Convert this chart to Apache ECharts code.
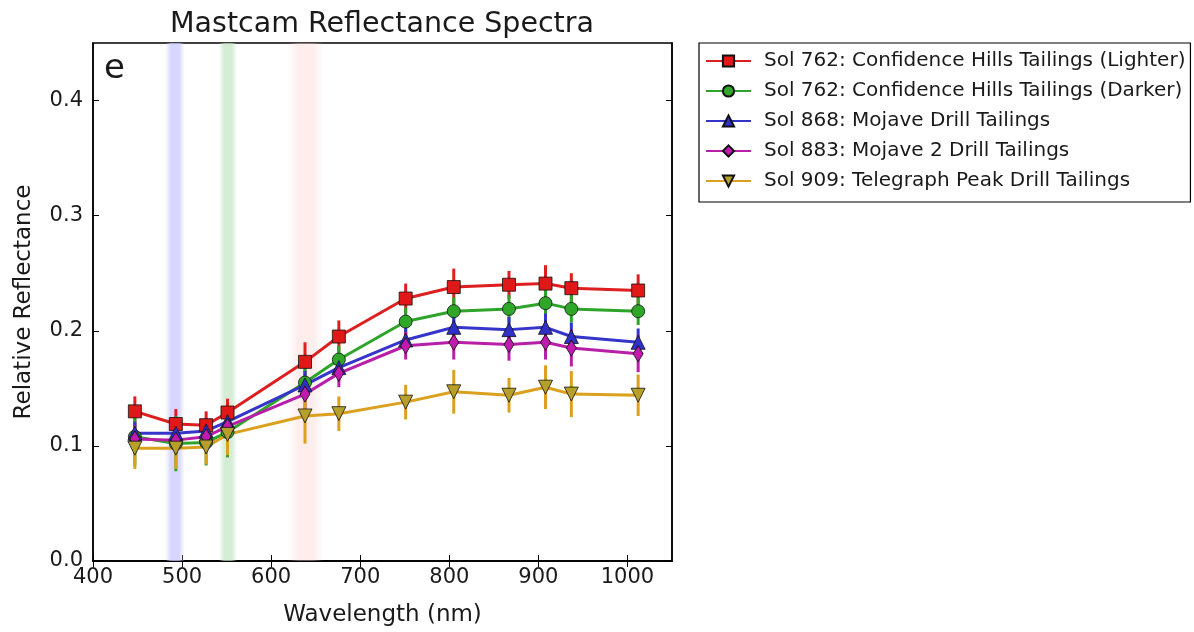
<!DOCTYPE html>
<html>
<head>
<meta charset="utf-8">
<script src="https://cdn.jsdelivr.net/npm/echarts@6/dist/echarts.min.js"></script>
<style>
  html, body { margin: 0; padding: 0; background: #ffffff; }
  #chart { width: 1194px; height: 632px; }
</style>
</head>
<body>
<div id="chart"></div>
<script>
// Mastcam filter centre wavelengths (nm)
const wavelengths = [447, 493, 527, 551, 638, 676, 751, 805, 867, 908, 937, 1012];

const seriesNames = [
  'Sol 762: Confidence Hills Tailings (Lighter)',
  'Sol 762: Confidence Hills Tailings (Darker)',
  'Sol 868: Mojave Drill Tailings',
  'Sol 883: Mojave 2 Drill Tailings',
  'Sol 909: Telegraph Peak Drill Tailings'
];

// Relative reflectance per filter
const lighterValues  = [0.130, 0.119, 0.118, 0.129, 0.173, 0.195, 0.228, 0.238, 0.240, 0.241, 0.237, 0.235];
const darkerValues   = [0.108, 0.102, 0.103, 0.112, 0.155, 0.175, 0.208, 0.217, 0.219, 0.224, 0.219, 0.217];
const mojaveValues   = [0.111, 0.111, 0.113, 0.121, 0.153, 0.168, 0.192, 0.203, 0.201, 0.203, 0.195, 0.190];
const mojave2Values  = [0.106, 0.105, 0.108, 0.117, 0.145, 0.163, 0.187, 0.190, 0.188, 0.190, 0.185, 0.180];
const telegraphValues= [0.098, 0.098, 0.099, 0.110, 0.126, 0.128, 0.138, 0.147, 0.144, 0.151, 0.145, 0.144];

// Half-height of the uncertainty bars
const lighterErr   = [0.013, 0.013, 0.012, 0.012, 0.017, 0.014, 0.013, 0.016, 0.012, 0.016, 0.013, 0.014];
const darkerErr    = [0.025, 0.024, 0.020, 0.022, 0.015, 0.012, 0.012, 0.012, 0.012, 0.012, 0.012, 0.012];
const mojaveErr    = [0.010, 0.010, 0.010, 0.010, 0.012, 0.011, 0.011, 0.012, 0.011, 0.012, 0.012, 0.012];
const mojave2Err   = [0.012, 0.012, 0.012, 0.012, 0.013, 0.012, 0.012, 0.015, 0.014, 0.015, 0.016, 0.016];
const telegraphErr = [0.018, 0.018, 0.015, 0.018, 0.024, 0.015, 0.015, 0.019, 0.015, 0.019, 0.020, 0.018];

// Bayer filter bandpasses shaded behind the spectra (nm)
const bayerBands = [
  { from: 481, to: 503, rgb: '200,200,255', alpha: 0.75 },
  { from: 541, to: 562, rgb: '195,228,195', alpha: 0.7 },
  { from: 618, to: 659, rgb: '250,210,210', alpha: 0.4 }
];

// Tick positions and labels
const xTickValues = [400, 500, 600, 700, 800, 900, 1000];
const yTickValues = [0, 0.1, 0.2, 0.3, 0.4];
const xRange = { min: 400, max: 1050 };
const yRange = { min: 0, max: 0.45 };

const FONT = 'DejaVu Sans';
const lineColors   = ['#dd1f1f', '#2ea52a', '#3535cc', '#b81fa8', '#dba01e'];
const markerColors = ['#e01818', '#2fa82a', '#3030c8', '#c21ab0', '#b7a02a'];
const symbols = ['rect', 'circle', 'triangle', 'diamond', 'triangle'];
const symbolSizes = [13, 13, 14, [10, 16], 14];
const symbolRotates = [0, 0, 0, 0, 180];

const values = [lighterValues, darkerValues, mojaveValues, mojave2Values, telegraphValues];
const errors = [lighterErr, darkerErr, mojaveErr, mojave2Err, telegraphErr];

function bandGradient(rgb, a) {
  return new echarts.graphic.LinearGradient(0, 0, 1, 0, [
    { offset: 0, color: 'rgba(' + rgb + ',0)' },
    { offset: 0.3, color: 'rgba(' + rgb + ',' + a + ')' },
    { offset: 0.7, color: 'rgba(' + rgb + ',' + a + ')' },
    { offset: 1, color: 'rgba(' + rgb + ',0)' }
  ]);
}

const series = [];
values.forEach((vals, k) => {
  const err = errors[k];
  series.push({
    name: seriesNames[k] + ' range',
    type: 'custom',
    z: 2,
    silent: true,
    data: wavelengths.map((w, i) => [w, vals[i] - err[i], vals[i] + err[i]]),
    encode: { x: 0, y: [1, 2] },
    renderItem: function (params, api) {
      const a = api.coord([api.value(0), api.value(1)]);
      const b = api.coord([api.value(0), api.value(2)]);
      return {
        type: 'line',
        shape: { x1: a[0], y1: a[1], x2: b[0], y2: b[1] },
        style: { stroke: lineColors[k], lineWidth: 3 }
      };
    }
  });
});
values.forEach((vals, k) => {
  const s = {
    name: seriesNames[k],
    type: 'line',
    z: 3,
    data: wavelengths.map((w, i) => [w, vals[i]]),
    symbol: symbols[k],
    symbolSize: symbolSizes[k],
    symbolRotate: symbolRotates[k],
    showAllSymbol: true,
    lineStyle: { color: lineColors[k], width: 3 },
    itemStyle: { color: markerColors[k], borderColor: '#111', borderWidth: 0.8 },
    emphasis: { disabled: true },
    animation: false
  };
  if (k === 0) {
    s.markArea = {
      silent: true,
      z: 1,
      data: bayerBands.map(b => [
        { xAxis: b.from, itemStyle: { color: bandGradient(b.rgb, b.alpha) } },
        { xAxis: b.to }
      ])
    };
  }
  series.push(s);
});

const axisLineStyle = { color: '#000', width: 1.5 };
const tickStyle = { color: '#000', width: 1 };

function xAxisDef(pos, withLabels) {
  return {
    type: 'value', position: pos,
    min: xRange.min, max: xRange.max,
    name: withLabels ? 'Wavelength (nm)' : '',
    nameLocation: 'middle',
    nameGap: 43,
    nameTextStyle: { fontFamily: FONT, fontSize: 23, color: '#1a1a1a' },
    axisLine: { show: true, lineStyle: axisLineStyle },
    axisTick: { show: true, inside: true, length: 6, lineStyle: tickStyle, customValues: xTickValues },
    axisLabel: {
      show: withLabels, fontFamily: FONT, fontSize: 21, color: '#1a1a1a', margin: 6,
      customValues: xTickValues, formatter: v => String(v)
    },
    splitLine: { show: false }
  };
}
function yAxisDef(pos, withLabels) {
  return {
    type: 'value', position: pos,
    min: yRange.min, max: yRange.max,
    name: withLabels ? 'Relative Reflectance' : '',
    nameLocation: 'middle',
    nameGap: 57,
    nameTextStyle: { fontFamily: FONT, fontSize: 23, color: '#1a1a1a' },
    axisLine: { show: true, lineStyle: axisLineStyle },
    axisTick: { show: true, inside: true, length: 6, lineStyle: tickStyle, customValues: yTickValues },
    axisLabel: {
      show: withLabels, fontFamily: FONT, fontSize: 21, color: '#1a1a1a', margin: 10,
      customValues: yTickValues, formatter: v => v.toFixed(1)
    },
    splitLine: { show: false }
  };
}

const chart = echarts.init(document.getElementById('chart'), null, { renderer: 'canvas' });
chart.setOption({
  animation: false,
  backgroundColor: '#ffffff',
  textStyle: { fontFamily: FONT },
  title: {
    text: 'Mastcam Reflectance Spectra',
    left: 382,
    textAlign: 'center',
    top: 10,
    padding: 0,
    textStyle: { fontFamily: FONT, fontSize: 28.5, fontWeight: 'normal', color: '#1a1a1a' }
  },
  grid: {
    left: 93, right: 522, top: 43, bottom: 71,
    show: true, borderColor: '#000', borderWidth: 1.5, backgroundColor: 'transparent'
  },
  legend: {
    orient: 'vertical',
    left: 699,
    top: 43,
    data: seriesNames,
    itemWidth: 45,
    itemHeight: 14,
    itemGap: 10,
    padding: [8, 5, 11, 6],
    borderColor: '#000',
    borderWidth: 1.2,
    backgroundColor: '#fff',
    selectedMode: false,
    textStyle: { fontFamily: FONT, fontSize: 20, color: '#1a1a1a', padding: [0, 0, 0, 8] }
  },
  xAxis: [xAxisDef('bottom', true), xAxisDef('top', false)],
  yAxis: [yAxisDef('left', true), yAxisDef('right', false)],
  graphic: [{
    type: 'text',
    left: 104,
    top: 52,
    silent: true,
    style: { text: 'e', font: '34px "DejaVu Sans"', fill: '#1a1a1a' }
  }],
  series: series
});
</script>
</body>
</html>
